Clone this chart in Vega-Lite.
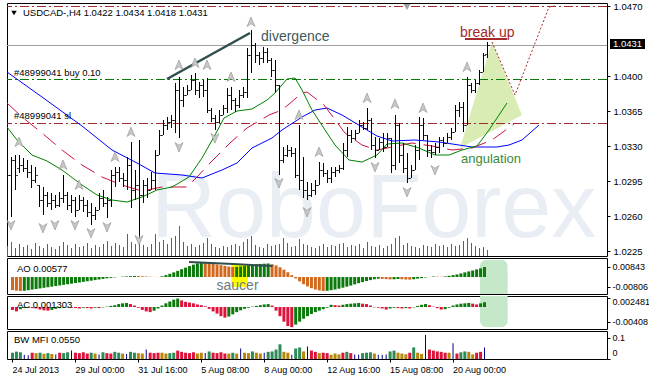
{
"$schema":"https://vega.github.io/schema/vega-lite/v6.json",
"background":"#ffffff",
"padding":{"left":5,"top":0,"right":0,"bottom":0},
"spacing":0,
"config":{"view":{"stroke":"#000000","strokeWidth":1},"axis":{"labelFont":"Liberation Sans","labelFontSize":9.5,"labelColor":"#000000","tickColor":"#000000","domain":false,"grid":false,"labelOverlap":false,"labelBound":false}},
"datasets":{
"bars":[
{"i":0,"o":1.0286,"h":1.0309,"l":1.0279,"c":1.0301},
{"i":1,"o":1.0301,"h":1.0319,"l":1.0259,"c":1.0316},
{"i":2,"o":1.0316,"h":1.0321,"l":1.0286,"c":1.0301},
{"i":3,"o":1.0308,"h":1.0321,"l":1.0303,"c":1.0311},
{"i":4,"o":1.0311,"h":1.0318,"l":1.0304,"c":1.0308},
{"i":5,"o":1.0308,"h":1.0316,"l":1.0298,"c":1.0304},
{"i":6,"o":1.0304,"h":1.0311,"l":1.0288,"c":1.0296},
{"i":7,"o":1.0296,"h":1.0309,"l":1.0293,"c":1.0301},
{"i":8,"o":1.0291,"h":1.0291,"l":1.0269,"c":1.0276},
{"i":9,"o":1.0276,"h":1.0289,"l":1.0261,"c":1.0281},
{"i":10,"o":1.0281,"h":1.0284,"l":1.0269,"c":1.0273},
{"i":11,"o":1.0273,"h":1.0283,"l":1.0266,"c":1.0276},
{"i":12,"o":1.0276,"h":1.0281,"l":1.0268,"c":1.0271},
{"i":13,"o":1.0271,"h":1.0284,"l":1.0269,"c":1.0278},
{"i":14,"o":1.0278,"h":1.0301,"l":1.0273,"c":1.0281},
{"i":15,"o":1.0281,"h":1.0284,"l":1.0266,"c":1.0271},
{"i":16,"o":1.0271,"h":1.0281,"l":1.0263,"c":1.0276},
{"i":17,"o":1.0276,"h":1.0279,"l":1.0259,"c":1.0266},
{"i":18,"o":1.0266,"h":1.0281,"l":1.0266,"c":1.0276},
{"i":19,"o":1.0276,"h":1.0279,"l":1.0264,"c":1.0271},
{"i":20,"o":1.0271,"h":1.0276,"l":1.0259,"c":1.0264},
{"i":21,"o":1.0264,"h":1.0273,"l":1.0251,"c":1.0261},
{"i":22,"o":1.0261,"h":1.0269,"l":1.0256,"c":1.0266},
{"i":23,"o":1.0266,"h":1.0283,"l":1.0266,"c":1.0278},
{"i":24,"o":1.0278,"h":1.0286,"l":1.0269,"c":1.0273},
{"i":25,"o":1.0273,"h":1.0279,"l":1.0258,"c":1.0276},
{"i":26,"o":1.0276,"h":1.0306,"l":1.0269,"c":1.0301},
{"i":27,"o":1.0301,"h":1.0309,"l":1.0289,"c":1.0304},
{"i":28,"o":1.0304,"h":1.0309,"l":1.0294,"c":1.0298},
{"i":29,"o":1.0298,"h":1.0303,"l":1.0289,"c":1.0296},
{"i":30,"o":1.0296,"h":1.0319,"l":1.0286,"c":1.0311},
{"i":31,"o":1.0311,"h":1.0334,"l":1.0268,"c":1.0286},
{"i":32,"o":1.0286,"h":1.0306,"l":1.0276,"c":1.0291},
{"i":33,"o":1.0291,"h":1.0336,"l":1.024,"c":1.0281},
{"i":34,"o":1.0281,"h":1.0296,"l":1.0273,"c":1.0291},
{"i":35,"o":1.0291,"h":1.0298,"l":1.0278,"c":1.0286},
{"i":36,"o":1.0286,"h":1.0304,"l":1.0286,"c":1.0296},
{"i":37,"o":1.0296,"h":1.0326,"l":1.0286,"c":1.0321},
{"i":38,"o":1.0321,"h":1.0346,"l":1.0321,"c":1.0341},
{"i":39,"o":1.0341,"h":1.0356,"l":1.0341,"c":1.0351},
{"i":40,"o":1.0351,"h":1.0359,"l":1.0346,"c":1.0354},
{"i":41,"o":1.0354,"h":1.0361,"l":1.0348,"c":1.0356},
{"i":42,"o":1.0356,"h":1.0393,"l":1.0343,"c":1.0386},
{"i":43,"o":1.0386,"h":1.0399,"l":1.0338,"c":1.0376},
{"i":44,"o":1.0376,"h":1.0389,"l":1.0369,"c":1.0381},
{"i":45,"o":1.0381,"h":1.0391,"l":1.0381,"c":1.0386},
{"i":46,"o":1.0386,"h":1.0401,"l":1.0386,"c":1.0396},
{"i":47,"o":1.0396,"h":1.0403,"l":1.0381,"c":1.0386},
{"i":48,"o":1.0386,"h":1.0394,"l":1.0378,"c":1.0391},
{"i":49,"o":1.0391,"h":1.0396,"l":1.0379,"c":1.0386},
{"i":50,"o":1.0386,"h":1.0398,"l":1.0363,"c":1.0366},
{"i":51,"o":1.0366,"h":1.0368,"l":1.0354,"c":1.0358},
{"i":52,"o":1.0358,"h":1.0361,"l":1.0346,"c":1.0354},
{"i":53,"o":1.0354,"h":1.0366,"l":1.0353,"c":1.0361},
{"i":54,"o":1.0361,"h":1.0371,"l":1.0361,"c":1.0368},
{"i":55,"o":1.0368,"h":1.0388,"l":1.0363,"c":1.0381},
{"i":56,"o":1.0381,"h":1.0389,"l":1.0366,"c":1.0376},
{"i":57,"o":1.0376,"h":1.0378,"l":1.0364,"c":1.0371},
{"i":58,"o":1.0371,"h":1.0386,"l":1.0368,"c":1.0381},
{"i":59,"o":1.0381,"h":1.0389,"l":1.0378,"c":1.0384},
{"i":60,"o":1.0384,"h":1.0428,"l":1.0378,"c":1.0421},
{"i":61,"o":1.0421,"h":1.0446,"l":1.0403,"c":1.0431},
{"i":62,"o":1.0431,"h":1.0433,"l":1.0413,"c":1.0421},
{"i":63,"o":1.0421,"h":1.0424,"l":1.0411,"c":1.0418},
{"i":64,"o":1.0418,"h":1.0429,"l":1.0413,"c":1.0424},
{"i":65,"o":1.0424,"h":1.0428,"l":1.0413,"c":1.0416},
{"i":66,"o":1.0416,"h":1.0418,"l":1.0399,"c":1.0406},
{"i":67,"o":1.0406,"h":1.0416,"l":1.0384,"c":1.0391},
{"i":68,"o":1.0391,"h":1.0391,"l":1.0301,"c":1.0316},
{"i":69,"o":1.0316,"h":1.0329,"l":1.0313,"c":1.0321},
{"i":70,"o":1.0321,"h":1.0331,"l":1.0319,"c":1.0326},
{"i":71,"o":1.0326,"h":1.0329,"l":1.0319,"c":1.0323},
{"i":72,"o":1.0323,"h":1.0328,"l":1.0298,"c":1.0301},
{"i":73,"o":1.0301,"h":1.0351,"l":1.0286,"c":1.0296},
{"i":74,"o":1.0296,"h":1.0319,"l":1.0278,"c":1.0286},
{"i":75,"o":1.0286,"h":1.0294,"l":1.0276,"c":1.0281},
{"i":76,"o":1.0281,"h":1.0293,"l":1.0279,"c":1.0286},
{"i":77,"o":1.0286,"h":1.0296,"l":1.0281,"c":1.0291},
{"i":78,"o":1.0291,"h":1.0314,"l":1.0291,"c":1.0306},
{"i":79,"o":1.0306,"h":1.0313,"l":1.0299,"c":1.0303},
{"i":80,"o":1.0303,"h":1.0306,"l":1.0293,"c":1.0298},
{"i":81,"o":1.0298,"h":1.0309,"l":1.0293,"c":1.0304},
{"i":82,"o":1.0304,"h":1.0309,"l":1.0299,"c":1.0306},
{"i":83,"o":1.0306,"h":1.0311,"l":1.0303,"c":1.0308},
{"i":84,"o":1.0308,"h":1.0333,"l":1.0306,"c":1.0326},
{"i":85,"o":1.0326,"h":1.0349,"l":1.0319,"c":1.0341},
{"i":86,"o":1.0341,"h":1.0346,"l":1.0333,"c":1.0338},
{"i":87,"o":1.0338,"h":1.0346,"l":1.0336,"c":1.0343},
{"i":88,"o":1.0343,"h":1.0356,"l":1.0343,"c":1.0351},
{"i":89,"o":1.0351,"h":1.0354,"l":1.0346,"c":1.0348},
{"i":90,"o":1.0348,"h":1.0368,"l":1.0346,"c":1.0356},
{"i":91,"o":1.0356,"h":1.0358,"l":1.0326,"c":1.0331},
{"i":92,"o":1.0331,"h":1.0339,"l":1.0318,"c":1.0326},
{"i":93,"o":1.0326,"h":1.0338,"l":1.0326,"c":1.0334},
{"i":94,"o":1.0334,"h":1.0343,"l":1.0324,"c":1.0329},
{"i":95,"o":1.0329,"h":1.0343,"l":1.0329,"c":1.0338},
{"i":96,"o":1.0338,"h":1.0338,"l":1.0303,"c":1.0311},
{"i":97,"o":1.0311,"h":1.0361,"l":1.0306,"c":1.0351},
{"i":98,"o":1.0351,"h":1.0353,"l":1.0313,"c":1.0321},
{"i":99,"o":1.0321,"h":1.0333,"l":1.0303,"c":1.0308},
{"i":100,"o":1.0308,"h":1.0323,"l":1.0293,"c":1.0298},
{"i":101,"o":1.0298,"h":1.0311,"l":1.0298,"c":1.0306},
{"i":102,"o":1.0306,"h":1.0331,"l":1.0306,"c":1.0326},
{"i":103,"o":1.0326,"h":1.0359,"l":1.0316,"c":1.0351},
{"i":104,"o":1.0351,"h":1.0358,"l":1.0336,"c":1.0341},
{"i":105,"o":1.0341,"h":1.0341,"l":1.0319,"c":1.0326},
{"i":106,"o":1.0326,"h":1.0331,"l":1.0318,"c":1.0324},
{"i":107,"o":1.0324,"h":1.0333,"l":1.0321,"c":1.0329},
{"i":108,"o":1.0329,"h":1.0339,"l":1.0323,"c":1.0336},
{"i":109,"o":1.0336,"h":1.0339,"l":1.0329,"c":1.0333},
{"i":110,"o":1.0333,"h":1.0343,"l":1.0333,"c":1.0339},
{"i":111,"o":1.0339,"h":1.0348,"l":1.0336,"c":1.0344},
{"i":112,"o":1.0344,"h":1.0371,"l":1.0344,"c":1.0366},
{"i":113,"o":1.0366,"h":1.0374,"l":1.0359,"c":1.0369},
{"i":114,"o":1.0369,"h":1.0374,"l":1.0344,"c":1.0351},
{"i":115,"o":1.0351,"h":1.0399,"l":1.0351,"c":1.0391},
{"i":116,"o":1.0391,"h":1.0393,"l":1.0383,"c":1.0386},
{"i":117,"o":1.0386,"h":1.0396,"l":1.0383,"c":1.0393},
{"i":118,"o":1.0393,"h":1.0406,"l":1.0391,"c":1.0404},
{"i":119,"o":1.0404,"h":1.0423,"l":1.0404,"c":1.0421},
{"i":120,"o":1.0422,"h":1.0434,"l":1.0418,"c":1.0431}
],
"ind":[
{"i":0,"ao":-0.011,"ac":-0.0008,"mfi":0.03,"z":"green","v":1000},
{"i":1,"ao":-0.0115,"ac":-0.0012,"mfi":0.035,"z":"green","v":1400},
{"i":2,"ao":-0.0118,"ac":-0.0006,"mfi":0.032,"z":"green","v":800},
{"i":3,"ao":-0.0116,"ac":-0.0003,"mfi":0.02,"z":"fake","v":1200},
{"i":4,"ao":-0.0111,"ac":-0.0002,"mfi":0.018,"z":"fake","v":900},
{"i":5,"ao":-0.0106,"ac":-0.0003,"mfi":0.03,"z":"squat","v":1100},
{"i":6,"ao":-0.0101,"ac":-0.0004,"mfi":0.028,"z":"fade","v":700},
{"i":7,"ao":-0.0096,"ac":-0.0007,"mfi":0.03,"z":"green","v":1300},
{"i":8,"ao":-0.0091,"ac":-0.0009,"mfi":0.025,"z":"fade","v":1000},
{"i":9,"ao":-0.0086,"ac":-0.001,"mfi":0.028,"z":"green","v":800},
{"i":10,"ao":-0.0081,"ac":-0.0008,"mfi":0.024,"z":"fade","v":1200},
{"i":11,"ao":-0.0076,"ac":-0.0005,"mfi":0.022,"z":"fake","v":900},
{"i":12,"ao":-0.0071,"ac":-0.0003,"mfi":0.03,"z":"squat","v":700},
{"i":13,"ao":-0.0066,"ac":-0.0002,"mfi":0.028,"z":"green","v":1000},
{"i":14,"ao":-0.0061,"ac":-0.0001,"mfi":0.032,"z":"green","v":1400},
{"i":15,"ao":-0.0056,"ac":-0.0002,"mfi":0.04,"z":"fake","v":1100},
{"i":16,"ao":-0.0051,"ac":-0.0003,"mfi":0.03,"z":"squat","v":800},
{"i":17,"ao":-0.0046,"ac":-0.0004,"mfi":0.028,"z":"squat","v":1200},
{"i":18,"ao":-0.0041,"ac":-0.0002,"mfi":0.032,"z":"squat","v":900},
{"i":19,"ao":-0.0036,"ac":-0.0003,"mfi":0.026,"z":"squat","v":1000},
{"i":20,"ao":-0.0031,"ac":-0.0004,"mfi":0.03,"z":"green","v":1300},
{"i":21,"ao":-0.0026,"ac":-0.0002,"mfi":0.026,"z":"fade","v":800},
{"i":22,"ao":-0.0021,"ac":-0.0003,"mfi":0.022,"z":"fake","v":1100},
{"i":23,"ao":-0.0016,"ac":-0.0001,"mfi":0.032,"z":"green","v":900},
{"i":24,"ao":-0.0011,"ac":0.0001,"mfi":0.028,"z":"squat","v":1200},
{"i":25,"ao":-0.0007,"ac":0.0003,"mfi":0.026,"z":"squat","v":1500},
{"i":26,"ao":-0.0003,"ac":0.0005,"mfi":0.034,"z":"green","v":1000},
{"i":27,"ao":0.0,"ac":0.0008,"mfi":0.03,"z":"green","v":1300},
{"i":28,"ao":0.0003,"ac":0.001,"mfi":0.026,"z":"fade","v":1100},
{"i":29,"ao":0.0005,"ac":0.0011,"mfi":0.024,"z":"fake","v":900},
{"i":30,"ao":0.0007,"ac":0.0008,"mfi":0.034,"z":"green","v":2200},
{"i":31,"ao":0.0009,"ac":0.0004,"mfi":0.03,"z":"green","v":1400},
{"i":32,"ao":0.0008,"ac":-0.0002,"mfi":0.028,"z":"fade","v":1200},
{"i":33,"ao":0.0006,"ac":-0.0008,"mfi":0.026,"z":"fade","v":2600},
{"i":34,"ao":0.0004,"ac":-0.0012,"mfi":0.045,"z":"fake","v":1100},
{"i":35,"ao":0.0002,"ac":-0.0014,"mfi":0.03,"z":"squat","v":900},
{"i":36,"ao":0.0001,"ac":-0.001,"mfi":0.028,"z":"squat","v":1200},
{"i":37,"ao":-0.0001,"ac":-0.0004,"mfi":0.03,"z":"squat","v":2200},
{"i":38,"ao":0.0006,"ac":0.0004,"mfi":0.03,"z":"fade","v":1400},
{"i":39,"ao":0.0016,"ac":0.001,"mfi":0.026,"z":"fade","v":1600},
{"i":40,"ao":0.0027,"ac":0.0015,"mfi":0.028,"z":"green","v":1200},
{"i":41,"ao":0.0039,"ac":0.002,"mfi":0.03,"z":"green","v":1800},
{"i":42,"ao":0.0052,"ac":0.0023,"mfi":0.04,"z":"squat","v":2000},
{"i":43,"ao":0.0066,"ac":0.0018,"mfi":0.034,"z":"squat","v":3000},
{"i":44,"ao":0.0079,"ac":0.0014,"mfi":0.03,"z":"squat","v":1400},
{"i":45,"ao":0.0092,"ac":0.0012,"mfi":0.028,"z":"squat","v":1000},
{"i":46,"ao":0.0104,"ac":0.001,"mfi":0.032,"z":"squat","v":1200},
{"i":47,"ao":0.0115,"ac":0.0007,"mfi":0.026,"z":"fade","v":900},
{"i":48,"ao":0.0124,"ac":0.0005,"mfi":0.03,"z":"fade","v":1100},
{"i":49,"ao":0.0121,"ac":0.0002,"mfi":0.028,"z":"fake","v":1300},
{"i":50,"ao":0.0117,"ac":-0.0005,"mfi":0.036,"z":"green","v":1800},
{"i":51,"ao":0.0112,"ac":-0.0012,"mfi":0.03,"z":"squat","v":1200},
{"i":52,"ao":0.0106,"ac":-0.0018,"mfi":0.028,"z":"squat","v":900},
{"i":53,"ao":0.01,"ac":-0.0025,"mfi":0.032,"z":"squat","v":800},
{"i":54,"ao":0.0094,"ac":-0.0029,"mfi":0.026,"z":"squat","v":1000},
{"i":55,"ao":0.0088,"ac":-0.0026,"mfi":0.026,"z":"fade","v":900},
{"i":56,"ao":0.0084,"ac":-0.002,"mfi":0.03,"z":"green","v":1100},
{"i":57,"ao":0.0086,"ac":-0.0014,"mfi":0.026,"z":"fade","v":1200},
{"i":58,"ao":0.0089,"ac":-0.0009,"mfi":0.05,"z":"fake","v":1000},
{"i":59,"ao":0.0093,"ac":-0.0005,"mfi":0.03,"z":"fade","v":1400},
{"i":60,"ao":0.0098,"ac":-0.0002,"mfi":0.028,"z":"fade","v":1700},
{"i":61,"ao":0.0103,"ac":0.0001,"mfi":0.036,"z":"green","v":2000},
{"i":62,"ao":0.0107,"ac":0.0003,"mfi":0.03,"z":"fade","v":1100},
{"i":63,"ao":0.011,"ac":0.0005,"mfi":0.026,"z":"fade","v":900},
{"i":64,"ao":0.0112,"ac":0.0007,"mfi":0.03,"z":"fake","v":800},
{"i":65,"ao":0.0114,"ac":0.0008,"mfi":0.034,"z":"green","v":1200},
{"i":66,"ao":0.0108,"ac":0.0004,"mfi":0.036,"z":"green","v":1000},
{"i":67,"ao":0.0098,"ac":-0.001,"mfi":0.045,"z":"green","v":1100},
{"i":68,"ao":0.0082,"ac":-0.0025,"mfi":0.07,"z":"green","v":1200},
{"i":69,"ao":0.0062,"ac":-0.004,"mfi":0.034,"z":"fade","v":1800},
{"i":70,"ao":0.004,"ac":-0.0052,"mfi":0.03,"z":"fade","v":1300},
{"i":71,"ao":0.0015,"ac":-0.0055,"mfi":0.02,"z":"fake","v":900},
{"i":72,"ao":-0.0012,"ac":-0.0048,"mfi":0.05,"z":"green","v":1000},
{"i":73,"ao":-0.0037,"ac":-0.004,"mfi":0.055,"z":"green","v":1700},
{"i":74,"ao":-0.006,"ac":-0.0032,"mfi":0.036,"z":"fade","v":1200},
{"i":75,"ao":-0.0079,"ac":-0.0025,"mfi":0.06,"z":"fake","v":1100},
{"i":76,"ao":-0.0094,"ac":-0.0019,"mfi":0.04,"z":"squat","v":900},
{"i":77,"ao":-0.0105,"ac":-0.0014,"mfi":0.034,"z":"squat","v":800},
{"i":78,"ao":-0.0113,"ac":-0.001,"mfi":0.028,"z":"fade","v":1000},
{"i":79,"ao":-0.0118,"ac":-0.0006,"mfi":0.03,"z":"squat","v":1200},
{"i":80,"ao":-0.0116,"ac":-0.0002,"mfi":0.028,"z":"squat","v":900},
{"i":81,"ao":-0.0111,"ac":0.0006,"mfi":0.02,"z":"fade","v":1100},
{"i":82,"ao":-0.0105,"ac":0.0005,"mfi":0.026,"z":"fade","v":1000},
{"i":83,"ao":-0.0098,"ac":0.0004,"mfi":0.022,"z":"fade","v":1200},
{"i":84,"ao":-0.009,"ac":0.0006,"mfi":0.03,"z":"squat","v":1300},
{"i":85,"ao":-0.0081,"ac":0.0008,"mfi":0.034,"z":"green","v":900},
{"i":86,"ao":-0.0072,"ac":0.0009,"mfi":0.028,"z":"squat","v":1100},
{"i":87,"ao":-0.0062,"ac":0.001,"mfi":0.022,"z":"fake","v":1000},
{"i":88,"ao":-0.0052,"ac":0.0011,"mfi":0.02,"z":"fake","v":1200},
{"i":89,"ao":-0.0043,"ac":0.0009,"mfi":0.028,"z":"green","v":800},
{"i":90,"ao":-0.0034,"ac":0.0008,"mfi":0.03,"z":"green","v":1400},
{"i":91,"ao":-0.0026,"ac":0.0004,"mfi":0.032,"z":"green","v":1000},
{"i":92,"ao":-0.0019,"ac":-0.0001,"mfi":0.026,"z":"fade","v":900},
{"i":93,"ao":-0.0014,"ac":-0.0002,"mfi":0.02,"z":"fake","v":1100},
{"i":94,"ao":-0.0016,"ac":-0.0004,"mfi":0.02,"z":"fake","v":800},
{"i":95,"ao":-0.0018,"ac":-0.0007,"mfi":0.022,"z":"fake","v":1000},
{"i":96,"ao":-0.002,"ac":-0.0004,"mfi":0.036,"z":"green","v":1200},
{"i":97,"ao":-0.0019,"ac":-0.0002,"mfi":0.04,"z":"green","v":1800},
{"i":98,"ao":-0.0017,"ac":-0.0003,"mfi":0.03,"z":"fade","v":2000},
{"i":99,"ao":-0.0019,"ac":-0.0004,"mfi":0.026,"z":"fade","v":1100},
{"i":100,"ao":-0.0021,"ac":-0.0003,"mfi":0.022,"z":"fade","v":1300},
{"i":101,"ao":-0.0022,"ac":-0.0004,"mfi":0.03,"z":"squat","v":1000},
{"i":102,"ao":-0.0019,"ac":-0.0001,"mfi":0.055,"z":"green","v":900},
{"i":103,"ao":-0.0014,"ac":0.0003,"mfi":0.03,"z":"fade","v":800},
{"i":104,"ao":-0.0009,"ac":0.0006,"mfi":0.024,"z":"fade","v":1100},
{"i":105,"ao":-0.0004,"ac":0.0008,"mfi":0.114,"z":"fake","v":1000},
{"i":106,"ao":0.0001,"ac":0.0005,"mfi":0.045,"z":"squat","v":900},
{"i":107,"ao":0.0004,"ac":0.0001,"mfi":0.04,"z":"squat","v":1200},
{"i":108,"ao":0.0003,"ac":-0.0003,"mfi":0.036,"z":"squat","v":1000},
{"i":109,"ao":0.0002,"ac":-0.0007,"mfi":0.034,"z":"squat","v":1100},
{"i":110,"ao":0.0005,"ac":-0.0006,"mfi":0.03,"z":"squat","v":900},
{"i":111,"ao":0.001,"ac":-0.0002,"mfi":0.03,"z":"fade","v":1200},
{"i":112,"ao":0.0016,"ac":0.0004,"mfi":0.075,"z":"fake","v":1000},
{"i":113,"ao":0.0022,"ac":0.0007,"mfi":0.026,"z":"squat","v":1100},
{"i":114,"ao":0.003,"ac":0.0009,"mfi":0.032,"z":"green","v":1500},
{"i":115,"ao":0.0039,"ac":0.001,"mfi":0.036,"z":"green","v":1800},
{"i":116,"ao":0.0047,"ac":0.0011,"mfi":0.034,"z":"fade","v":1300},
{"i":117,"ao":0.0055,"ac":0.0009,"mfi":0.022,"z":"fade","v":1000},
{"i":118,"ao":0.0064,"ac":0.0007,"mfi":0.03,"z":"squat","v":800},
{"i":119,"ao":0.0073,"ac":0.001,"mfi":0.034,"z":"squat","v":900},
{"i":120,"ao":0.0084,"ac":0.0013,"mfi":0.055,"z":"fake","v":600}
],
"ma":[
{"s":"jaw","i":0,"p":1.0404},{"s":"jaw","i":8.75,"p":1.0379},{"s":"jaw","i":18.75,"p":1.035},{"s":"jaw","i":26.25,"p":1.0326},{"s":"jaw","i":32.5,"p":1.0313},{"s":"jaw","i":37,"p":1.0303},{"s":"jaw","i":43.75,"p":1.0301},{"s":"jaw","i":48.75,"p":1.0298},{"s":"jaw","i":53.75,"p":1.0306},{"s":"jaw","i":57.5,"p":1.0313},{"s":"jaw","i":61.25,"p":1.0328},{"s":"jaw","i":66.25,"p":1.0338},{"s":"jaw","i":68.75,"p":1.0346},{"s":"jaw","i":73.75,"p":1.0359},{"s":"jaw","i":77,"p":1.0366},{"s":"jaw","i":80,"p":1.0368},{"s":"jaw","i":83.75,"p":1.0361},{"s":"jaw","i":88.75,"p":1.0349},{"s":"jaw","i":92.5,"p":1.034},{"s":"jaw","i":96.25,"p":1.0335},{"s":"jaw","i":102,"p":1.0336},{"s":"jaw","i":108,"p":1.0334},{"s":"jaw","i":113,"p":1.0331},{"s":"jaw","i":116.25,"p":1.0329},{"s":"jaw","i":122.5,"p":1.0329},{"s":"jaw","i":125.5,"p":1.0331},{"s":"jaw","i":128.75,"p":1.0336},{"s":"jaw","i":133,"p":1.0351},
{"s":"teeth","i":0,"p":1.0373},{"s":"teeth","i":3.75,"p":1.0359},{"s":"teeth","i":8.75,"p":1.0343},{"s":"teeth","i":13.75,"p":1.0326},{"s":"teeth","i":18.75,"p":1.0311},{"s":"teeth","i":23.75,"p":1.0299},{"s":"teeth","i":28.75,"p":1.0291},{"s":"teeth","i":33.75,"p":1.0285},{"s":"teeth","i":38.75,"p":1.0289},{"s":"teeth","i":45,"p":1.0289},{"s":"teeth","i":47.5,"p":1.0299},{"s":"teeth","i":50.75,"p":1.0313},{"s":"teeth","i":55.75,"p":1.0333},{"s":"teeth","i":60,"p":1.0348},{"s":"teeth","i":65.5,"p":1.0361},{"s":"teeth","i":68.75,"p":1.0366},{"s":"teeth","i":73.75,"p":1.0383},{"s":"teeth","i":75,"p":1.0384},{"s":"teeth","i":79.25,"p":1.0371},{"s":"teeth","i":84.5,"p":1.0343},{"s":"teeth","i":88.75,"p":1.0331},{"s":"teeth","i":92.5,"p":1.0326},{"s":"teeth","i":96.25,"p":1.0329},{"s":"teeth","i":101.25,"p":1.0333},{"s":"teeth","i":106.25,"p":1.033},{"s":"teeth","i":111.25,"p":1.0326},{"s":"teeth","i":116.25,"p":1.0328},{"s":"teeth","i":121.25,"p":1.0336},{"s":"teeth","i":126.75,"p":1.0352},
{"s":"lips","i":0,"p":1.0349},{"s":"lips","i":2.5,"p":1.0336},{"s":"lips","i":6.25,"p":1.0321},{"s":"lips","i":10,"p":1.0315},{"s":"lips","i":13.75,"p":1.0306},{"s":"lips","i":18.75,"p":1.0291},{"s":"lips","i":22.5,"p":1.0281},{"s":"lips","i":26.25,"p":1.0276},{"s":"lips","i":30,"p":1.0274},{"s":"lips","i":33.75,"p":1.0279},{"s":"lips","i":37.5,"p":1.0286},{"s":"lips","i":41.25,"p":1.0289},{"s":"lips","i":45.5,"p":1.0299},{"s":"lips","i":48.75,"p":1.0318},{"s":"lips","i":52,"p":1.0341},{"s":"lips","i":54.25,"p":1.0358},{"s":"lips","i":57.5,"p":1.0365},{"s":"lips","i":61.25,"p":1.0367},{"s":"lips","i":65,"p":1.0376},{"s":"lips","i":67,"p":1.0383},{"s":"lips","i":70,"p":1.0397},{"s":"lips","i":72,"p":1.0398},{"s":"lips","i":73.75,"p":1.0386},{"s":"lips","i":76.25,"p":1.0366},{"s":"lips","i":79.5,"p":1.0346},{"s":"lips","i":82,"p":1.0331},{"s":"lips","i":85.5,"p":1.0316},{"s":"lips","i":88.75,"p":1.0314},{"s":"lips","i":92.5,"p":1.0321},{"s":"lips","i":95,"p":1.0332},{"s":"lips","i":98.75,"p":1.0333},{"s":"lips","i":103,"p":1.0328},{"s":"lips","i":107,"p":1.0321},{"s":"lips","i":110.5,"p":1.0321},{"s":"lips","i":113.75,"p":1.0326},{"s":"lips","i":117.5,"p":1.033},{"s":"lips","i":120.5,"p":1.0346},{"s":"lips","i":125,"p":1.0373}
],
"fr":[
{"d":"up","i":3,"p":1.0334},{"d":"up","i":14,"p":1.0311},{"d":"up","i":18,"p":1.0291},{"d":"up","i":27,"p":1.0319},{"d":"up","i":31,"p":1.0344},{"d":"up","i":43,"p":1.0411},{"d":"up","i":47,"p":1.0413},{"d":"up","i":50,"p":1.0411},{"d":"up","i":56,"p":1.0399},{"d":"up","i":61,"p":1.0454},{"d":"up","i":73,"p":1.0361},{"d":"up","i":78,"p":1.0324},{"d":"up","i":90,"p":1.0378},{"d":"up","i":97,"p":1.0372},{"d":"up","i":104,"p":1.0368},{"d":"up","i":115,"p":1.0409},
{"d":"down","i":1,"p":1.0251},{"d":"down","i":9,"p":1.0248},{"d":"down","i":12,"p":1.0251},{"d":"down","i":17,"p":1.0251},{"d":"down","i":21,"p":1.0243},{"d":"down","i":25,"p":1.0249},{"d":"down","i":33,"p":1.0236},{"d":"down","i":43,"p":1.0329},{"d":"down","i":52,"p":1.0338},{"d":"down","i":68,"p":1.0293},{"d":"down","i":75,"p":1.0264},{"d":"down","i":92,"p":1.0309},{"d":"down","i":100,"p":1.0284},{"d":"down","i":107,"p":1.0306}
]
},
"vconcat":[
{
"width":600,"height":253,
"layer":[
{"data":{"name":"ind"},"mark":{"type":"rule","color":"#2f7f2f","xOffset":0.5,"clip":true},
 "encoding":{"x":{"field":"i","type":"quantitative","scale":{"domain":[0,150],"nice":false,"zero":false},"axis":null,"title":null},
  "y":{"field":"v","type":"quantitative","scale":{"domain":[0,25300],"nice":false},"axis":null,"title":null},"y2":{"datum":0}}},
{"layer":[
 {"data":{"values":[{"i":36,"p":1.0239,"t":"RoboForex"}]},
  "mark":{"type":"text","align":"left","baseline":"alphabetic","font":"Liberation Sans","fontSize":90,"color":"#e9eef4","clip":true},
  "encoding":{"x":{"field":"i","type":"quantitative","scale":{"domain":[0,150],"nice":false,"zero":false},"axis":null,"title":null},
   "y":{"field":"p","type":"quantitative","scale":{"domain":[1.022,1.0473],"nice":false,"zero":false},"title":null},"text":{"field":"t"}}},
 {"data":{"values":[{"i":113.25,"t":1.0328,"b":1.0328},{"i":121.25,"t":1.0434,"b":1.0345},{"i":128.75,"t":1.0361,"b":1.0361}]},
  "mark":{"type":"area","color":"#d8ecb4","opacity":1},
  "encoding":{"x":{"field":"i","type":"quantitative","scale":{"domain":[0,150],"nice":false,"zero":false},"axis":null,"title":null},
   "y":{"field":"t","type":"quantitative","scale":{"domain":[1.022,1.0473],"nice":false,"zero":false},"title":null},"y2":{"field":"b"}}},
 {"data":{"values":[{"p":1.047},{"p":1.0353}]},
  "mark":{"type":"rule","color":"#a52a2a","strokeDash":[9,3,2,3],"yOffset":0.5},
  "encoding":{"y":{"field":"p","type":"quantitative","scale":{"domain":[1.022,1.0473],"nice":false,"zero":false},"title":null}}},
 {"data":{"values":[{"p":1.0397}]},
  "mark":{"type":"rule","color":"#0a7a0a","strokeDash":[9,3,2,3],"yOffset":0.5},
  "encoding":{"y":{"field":"p","type":"quantitative","scale":{"domain":[1.022,1.0473],"nice":false,"zero":false},"title":null}}},
 {"data":{"values":[{"p":1.0431}]},
  "mark":{"type":"rule","color":"#a0a0a0","yOffset":0.5},
  "encoding":{"y":{"field":"p","type":"quantitative","scale":{"domain":[1.022,1.0473],"nice":false,"zero":false},"title":null}}},
 {"data":{"name":"ma"},"transform":[{"filter":"datum.s=='jaw'"}],
  "mark":{"type":"line","color":"#0000ff","strokeWidth":1,"clip":true},
  "encoding":{"x":{"field":"i","type":"quantitative","scale":{"domain":[0,150],"nice":false,"zero":false},"axis":null,"title":null},
   "y":{"field":"p","type":"quantitative","scale":{"domain":[1.022,1.0473],"nice":false,"zero":false},"title":null},"order":{"field":"i"}}},
 {"data":{"name":"ma"},"transform":[{"filter":"datum.s=='teeth'"}],
  "mark":{"type":"line","color":"#c8143c","strokeWidth":1,"strokeDash":[16,8],"clip":true},
  "encoding":{"x":{"field":"i","type":"quantitative","scale":{"domain":[0,150],"nice":false,"zero":false},"axis":null,"title":null},
   "y":{"field":"p","type":"quantitative","scale":{"domain":[1.022,1.0473],"nice":false,"zero":false},"title":null},"order":{"field":"i"}}},
 {"data":{"name":"ma"},"transform":[{"filter":"datum.s=='lips'"}],
  "mark":{"type":"line","color":"#008000","strokeWidth":1,"clip":true},
  "encoding":{"x":{"field":"i","type":"quantitative","scale":{"domain":[0,150],"nice":false,"zero":false},"axis":null,"title":null},
   "y":{"field":"p","type":"quantitative","scale":{"domain":[1.022,1.0473],"nice":false,"zero":false},"title":null},"order":{"field":"i"}}},
 {"data":{"values":[{"i":40,"p":1.0397},{"i":60.75,"p":1.0443}]},
  "mark":{"type":"line","color":"#2f4f4f","strokeWidth":2.5},
  "encoding":{"x":{"field":"i","type":"quantitative","scale":{"domain":[0,150],"nice":false,"zero":false},"axis":null,"title":null},
   "y":{"field":"p","type":"quantitative","scale":{"domain":[1.022,1.0473],"nice":false,"zero":false},"title":null}}},
 {"data":{"values":[{"i":121.25,"p":1.0434},{"i":127,"p":1.0381},{"i":135.5,"p":1.0469},{"i":137,"p":1.047}]},
  "mark":{"type":"line","color":"#a52a2a","strokeWidth":1,"strokeDash":[2,2]},
  "encoding":{"x":{"field":"i","type":"quantitative","scale":{"domain":[0,150],"nice":false,"zero":false},"axis":null,"title":null},
   "y":{"field":"p","type":"quantitative","scale":{"domain":[1.022,1.0473],"nice":false,"zero":false},"title":null},"order":{"field":"i"}}},
 {"data":{"values":[{"i":114.5,"i2":125,"p":1.0437}]},
  "mark":{"type":"rule","color":"#a52a2a","strokeWidth":2},
  "encoding":{"x":{"field":"i","type":"quantitative","scale":{"domain":[0,150],"nice":false,"zero":false},"axis":null,"title":null},"x2":{"field":"i2"},
   "y":{"field":"p","type":"quantitative","scale":{"domain":[1.022,1.0473],"nice":false,"zero":false},"title":null}}},
 {"data":{"name":"bars"},
  "mark":{"type":"rule","color":"#000000","xOffset":0.5,"clip":true},
  "encoding":{"x":{"field":"i","type":"quantitative","scale":{"domain":[0,150],"nice":false,"zero":false},"axis":null,"title":null},
   "y":{"field":"l","type":"quantitative","scale":{"domain":[1.022,1.0473],"nice":false,"zero":false},"title":null,
    "axis":{"orient":"right","values":[1.0225,1.026,1.0295,1.033,1.0365,1.04,1.047],"format":".4f","tickSize":3,"labelPadding":3}},
   "y2":{"field":"h"}}},
 {"data":{"name":"bars"},
  "mark":{"type":"tick","orient":"horizontal","color":"#000000","size":2,"thickness":1,"xOffset":-1,"yOffset":0.5,"clip":true},
  "encoding":{"x":{"field":"i","type":"quantitative","scale":{"domain":[0,150],"nice":false,"zero":false},"axis":null,"title":null},
   "y":{"field":"o","type":"quantitative","scale":{"domain":[1.022,1.0473],"nice":false,"zero":false},"title":null}}},
 {"data":{"name":"bars"},
  "mark":{"type":"tick","orient":"horizontal","color":"#000000","size":2,"thickness":1,"xOffset":2,"yOffset":0.5,"clip":true},
  "encoding":{"x":{"field":"i","type":"quantitative","scale":{"domain":[0,150],"nice":false,"zero":false},"axis":null,"title":null},
   "y":{"field":"c","type":"quantitative","scale":{"domain":[1.022,1.0473],"nice":false,"zero":false},"title":null}}},
 {"data":{"name":"fr"},
  "mark":{"type":"point","filled":true,"size":100,"color":"#c8c8c8","stroke":"#8f8f8f","strokeWidth":0.6,"opacity":1},
  "encoding":{"x":{"field":"i","type":"quantitative","scale":{"domain":[0,150],"nice":false,"zero":false},"axis":null,"title":null},
   "y":{"field":"p","type":"quantitative","scale":{"domain":[1.022,1.0473],"nice":false,"zero":false},"title":null},
   "shape":{"field":"d","type":"nominal","scale":{"domain":["up","down"],"range":["M0,-1L0.8,0.9L0,0.35L-0.8,0.9Z","M0,1L0.8,-0.9L0,-0.35L-0.8,-0.9Z"]},"legend":null}}},
 {"data":{"values":[{"i":100,"p":1.0469}]},
  "mark":{"type":"point","shape":"triangle-down","filled":true,"size":50,"color":"#a0a0a0","opacity":1},
  "encoding":{"x":{"field":"i","type":"quantitative","scale":{"domain":[0,150],"nice":false,"zero":false},"axis":null,"title":null},
   "y":{"field":"p","type":"quantitative","scale":{"domain":[1.022,1.0473],"nice":false,"zero":false},"title":null}}},
 {"data":{"values":[{"i":1.75,"p":1.0463}]},
  "mark":{"type":"point","shape":"triangle-down","filled":true,"size":30,"color":"#000000","opacity":1},
  "encoding":{"x":{"field":"i","type":"quantitative","scale":{"domain":[0,150],"nice":false,"zero":false},"axis":null,"title":null},
   "y":{"field":"p","type":"quantitative","scale":{"domain":[1.022,1.0473],"nice":false,"zero":false},"title":null}}},
 {"data":{"values":[{"i":4,"p":1.046,"t":"USDCAD-,H4 1.0422 1.0434 1.0418 1.0431"},{"i":1.75,"p":1.04,"t":"#48999041 buy 0.10"},{"i":1.75,"p":1.0357,"t":"#48999041 sl"}]},
  "mark":{"type":"text","align":"left","baseline":"alphabetic","font":"Liberation Sans","fontSize":9.5,"color":"#000000"},
  "encoding":{"x":{"field":"i","type":"quantitative","scale":{"domain":[0,150],"nice":false,"zero":false},"axis":null,"title":null},
   "y":{"field":"p","type":"quantitative","scale":{"domain":[1.022,1.0473],"nice":false,"zero":false},"title":null},"text":{"field":"t"}}},
 {"data":{"values":[{"i":63.5,"p":1.0435,"t":"divergence"}]},
  "mark":{"type":"text","align":"left","baseline":"alphabetic","font":"Liberation Sans","fontSize":14,"color":"#3c5a5a"},
  "encoding":{"x":{"field":"i","type":"quantitative","scale":{"domain":[0,150],"nice":false,"zero":false},"axis":null,"title":null},
   "y":{"field":"p","type":"quantitative","scale":{"domain":[1.022,1.0473],"nice":false,"zero":false},"title":null},"text":{"field":"t"}}},
 {"data":{"values":[{"i":113.25,"p":1.0439,"t":"break up"}]},
  "mark":{"type":"text","align":"left","baseline":"alphabetic","font":"Liberation Sans","fontSize":14,"color":"#a52a2a"},
  "encoding":{"x":{"field":"i","type":"quantitative","scale":{"domain":[0,150],"nice":false,"zero":false},"axis":null,"title":null},
   "y":{"field":"p","type":"quantitative","scale":{"domain":[1.022,1.0473],"nice":false,"zero":false},"title":null},"text":{"field":"t"}}},
 {"data":{"values":[{"i":113.5,"p":1.0313,"t":"angulation"}]},
  "mark":{"type":"text","align":"left","baseline":"alphabetic","font":"Liberation Sans","fontSize":13,"color":"#3a8a3a"},
  "encoding":{"x":{"field":"i","type":"quantitative","scale":{"domain":[0,150],"nice":false,"zero":false},"axis":null,"title":null},
   "y":{"field":"p","type":"quantitative","scale":{"domain":[1.022,1.0473],"nice":false,"zero":false},"title":null},"text":{"field":"t"}}},
 {"data":{"values":[{"i":150.75,"i2":159.5,"p":1.0437,"p2":1.0427}]},
  "mark":{"type":"rect","color":"#000000","clip":false},
  "encoding":{"x":{"field":"i","type":"quantitative","scale":{"domain":[0,150],"nice":false,"zero":false},"axis":null,"title":null},"x2":{"field":"i2"},
   "y":{"field":"p","type":"quantitative","scale":{"domain":[1.022,1.0473],"nice":false,"zero":false},"title":null},"y2":{"field":"p2"}}},
 {"data":{"values":[{"i":151.5,"p":1.0432,"t":"1.0431"}]},
  "mark":{"type":"text","align":"left","baseline":"middle","font":"Liberation Sans","fontSize":9.5,"color":"#ffffff","clip":false},
  "encoding":{"x":{"field":"i","type":"quantitative","scale":{"domain":[0,150],"nice":false,"zero":false},"axis":null,"title":null},
   "y":{"field":"p","type":"quantitative","scale":{"domain":[1.022,1.0473],"nice":false,"zero":false},"title":null},"text":{"field":"t"}}}
]}
],
"resolve":{"scale":{"y":"independent"}}
},
{
"width":600,"height":36,
"layer":[
 {"data":{"values":[{"i":55.75,"i2":60,"a":0.0101,"a2":-0.0084}]},
  "mark":{"type":"rect","color":"#ffff00"},
  "encoding":{"x":{"field":"i","type":"quantitative","scale":{"domain":[0,150],"nice":false,"zero":false},"axis":null,"title":null},"x2":{"field":"i2"},
   "y":{"field":"a","type":"quantitative","scale":{"domain":[-0.0143,0.016],"nice":false,"zero":false},"title":null},"y2":{"field":"a2"}}},
 {"data":{"values":[{"i":119,"i2":126,"a":0.0143,"a2":-0.03}]},
  "mark":{"type":"rect","color":"#c4e8c8","cornerRadius":6,"clip":true},
  "encoding":{"x":{"field":"i","type":"quantitative","scale":{"domain":[0,150],"nice":false,"zero":false},"axis":null,"title":null},"x2":{"field":"i2"},
   "y":{"field":"a","type":"quantitative","scale":{"domain":[-0.0143,0.016],"nice":false,"zero":false},"title":null},"y2":{"field":"a2"}}},
 {"data":{"name":"ind"},
  "transform":[{"window":[{"op":"lag","field":"ao","as":"aop"}],"sort":[{"field":"i"}]}],
  "mark":{"type":"bar","size":3,"xOffset":0.5,"clip":true},
  "encoding":{"x":{"field":"i","type":"quantitative","scale":{"domain":[0,150],"nice":false,"zero":false},"axis":null,"title":null},
   "y":{"field":"ao","type":"quantitative","scale":{"domain":[-0.0143,0.016],"nice":false,"zero":false},"title":null,
    "axis":{"orient":"right","values":[0.00843,0,-0.00806],"labelExpr":"datum.value > 0.001 ? '0.00843' : (datum.value < -0.001 ? '-0.00806' : '0.00')","tickSize":3,"labelPadding":2,"labelFontSize":9}},
   "y2":{"datum":0},
   "color":{"condition":{"test":"datum.aop != null && datum.ao > datum.aop","value":"#0b7a0b"},"value":"#d2691e"}}},
 {"data":{"values":[{"i":45,"a":0.0126},{"i":56.25,"a":0.0109},{"i":66.25,"a":0.0092}]},
  "mark":{"type":"line","color":"#2f4f4f","strokeWidth":2},
  "encoding":{"x":{"field":"i","type":"quantitative","scale":{"domain":[0,150],"nice":false,"zero":false},"axis":null,"title":null},
   "y":{"field":"a","type":"quantitative","scale":{"domain":[-0.0143,0.016],"nice":false,"zero":false},"title":null}}},
 {"data":{"values":[{"i":1.25,"a":0.0042,"t":"AO 0.00577"}]},
  "mark":{"type":"text","align":"left","baseline":"alphabetic","font":"Liberation Sans","fontSize":9.5,"color":"#000000"},
  "encoding":{"x":{"field":"i","type":"quantitative","scale":{"domain":[0,150],"nice":false,"zero":false},"axis":null,"title":null},
   "y":{"field":"a","type":"quantitative","scale":{"domain":[-0.0143,0.016],"nice":false,"zero":false},"title":null},"text":{"field":"t"}}},
 {"data":{"values":[{"i":52,"a":-0.0112,"t":"saucer"}]},
  "mark":{"type":"text","align":"left","baseline":"alphabetic","font":"Liberation Sans","fontSize":14,"color":"#6e7b7b","clip":true},
  "encoding":{"x":{"field":"i","type":"quantitative","scale":{"domain":[0,150],"nice":false,"zero":false},"axis":null,"title":null},
   "y":{"field":"a","type":"quantitative","scale":{"domain":[-0.0143,0.016],"nice":false,"zero":false},"title":null},"text":{"field":"t"}}}
]
},
{
"width":600,"height":33,
"layer":[
 {"data":{"values":[{"i":119,"i2":126,"a":0.01,"a2":-0.00545}]},
  "mark":{"type":"rect","color":"#c4e8c8","cornerRadius":6,"clip":true},
  "encoding":{"x":{"field":"i","type":"quantitative","scale":{"domain":[0,150],"nice":false,"zero":false},"axis":null,"title":null},"x2":{"field":"i2"},
   "y":{"field":"a","type":"quantitative","scale":{"domain":[-0.006,0.003],"nice":false,"zero":false},"title":null},"y2":{"field":"a2"}}},
 {"data":{"name":"ind"},
  "transform":[{"window":[{"op":"lag","field":"ac","as":"acp"}],"sort":[{"field":"i"}]}],
  "mark":{"type":"bar","size":3,"xOffset":0.5,"clip":true},
  "encoding":{"x":{"field":"i","type":"quantitative","scale":{"domain":[0,150],"nice":false,"zero":false},"axis":null,"title":null},
   "y":{"field":"ac","type":"quantitative","scale":{"domain":[-0.006,0.003],"nice":false,"zero":false},"title":null,
    "axis":{"orient":"right","values":[0.002481,0,-0.00408],"labelExpr":"datum.value > 0.001 ? '0.002481' : (datum.value < -0.001 ? '-0.00408' : '0.00')","tickSize":3,"labelPadding":2,"labelFontSize":9,
     "labelOffset":{"condition":{"test":"datum.value > 0.001","value":4},"value":0}}},
   "y2":{"datum":0},
   "color":{"condition":{"test":"datum.acp != null && datum.ac > datum.acp","value":"#0b7a0b"},"value":"#dc143c"}}},
 {"data":{"values":[{"i":1.25,"a":-0.00027,"t":"AC 0.001303"}]},
  "mark":{"type":"text","align":"left","baseline":"alphabetic","font":"Liberation Sans","fontSize":9.5,"color":"#000000"},
  "encoding":{"x":{"field":"i","type":"quantitative","scale":{"domain":[0,150],"nice":false,"zero":false},"axis":null,"title":null},
   "y":{"field":"a","type":"quantitative","scale":{"domain":[-0.006,0.003],"nice":false,"zero":false},"title":null},"text":{"field":"t"}}}
]
},
{
"width":600,"height":28,
"layer":[
 {"data":{"name":"ind"},
  "mark":{"type":"bar","xOffset":0.5,"clip":true},
  "encoding":{"x":{"field":"i","type":"quantitative","scale":{"domain":[0,150],"nice":false,"zero":false},"title":null,
    "axis":{"values":[0,16,32,48,64,80,96,112],"labelExpr":"datum.value==0?'24 Jul 2013':datum.value==16?'29 Jul 00:00':datum.value==32?'31 Jul 16:00':datum.value==48?'5 Aug 08:00':datum.value==64?'8 Aug 00:00':datum.value==80?'12 Aug 16:00':datum.value==96?'15 Aug 08:00':'20 Aug 00:00'","labelAlign":"left","tickSize":3,"labelPadding":3,"labelFontSize":9,"labelFlush":false}},
   "y":{"field":"mfi","type":"quantitative","scale":{"domain":[0,0.1333],"nice":false,"zero":false},"title":null,
    "axis":{"orient":"right","values":[0.1,0],"labelExpr":"datum.value > 0.05 ? '0.1' : '0'","tickSize":3,"labelPadding":2,"labelFontSize":9,
     "labelOffset":{"condition":{"test":"datum.value < 0.05","value":-7},"value":0}}},
   "y2":{"datum":0},
   "size":{"condition":{"test":"datum.z=='fake'","value":1},"value":3},
   "color":{"field":"z","type":"nominal","scale":{"domain":["green","fade","fake","squat"],"range":["#2e8b57","#b8860b","#00008b","#dc143c"]},"legend":null}}},
 {"data":{"values":[{"i":0.5,"m":0.076,"t":"BW MFI 0.0550"}]},
  "mark":{"type":"text","align":"left","baseline":"alphabetic","font":"Liberation Sans","fontSize":9.5,"color":"#000000"},
  "encoding":{"x":{"field":"i","type":"quantitative","scale":{"domain":[0,150],"nice":false,"zero":false},"title":null},
   "y":{"field":"m","type":"quantitative","scale":{"domain":[0,0.1333],"nice":false,"zero":false},"title":null},"text":{"field":"t"}}}
]
}
]
}
